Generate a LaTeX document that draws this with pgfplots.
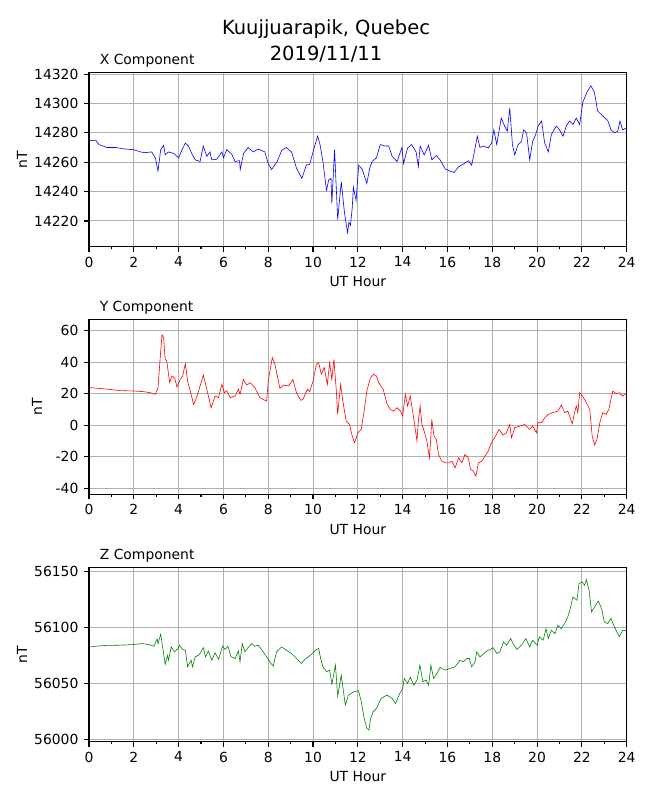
\documentclass[border=0pt]{standalone}
\usepackage{fontspec}
\setmainfont{DejaVu Sans}
\usepackage{pgfplots}
\pgfplotsset{compat=1.18}
\definecolor{mplgreen}{RGB}{0,128,0}
\definecolor{gridgray}{RGB}{176,176,176}
\newcommand{\tfont}{\fontsize{13.9}{16}\selectfont}
\pgfplotsset{
  magpanel/.style={
    scale only axis, width=537.7pt, height=174.4pt, anchor=south west,
    xmin=0, xmax=24, xtick={0,2,4,6,8,10,12,14,16,18,20,22,24}, minor x tick num=1,
    grid=major, major grid style={color=gridgray, line width=1pt},
    axis line style={line width=1.1pt},
    every tick/.style={black, line width=1.1pt},
    major tick length=4.9pt, minor tick length=2.8pt,
    tick align=outside, tick pos=left,
    scaled y ticks=false, scaled x ticks=false,
    xticklabel={\tfont\pgfmathprintnumber[assume math mode=true,fixed,set thousands separator={}]{\tick}},
    yticklabel={\tfont\pgfmathprintnumber[assume math mode=true,fixed,set thousands separator={}]{\tick}},
    xticklabel style={font=\tfont, inner sep=0pt, yshift=-4.9pt},
    yticklabel style={font=\tfont, inner sep=0pt, xshift=-5.5pt},
    xlabel={UT Hour}, ylabel={nT},
    xlabel style={at={(axis description cs:0.5,0)}, anchor=center, yshift=-35.3pt, font=\tfont},
    title style={at={(axis description cs:0,1)}, anchor=base west, xshift=6pt, yshift=2pt, font=\tfont},
    clip=true,
  }
}
\begin{document}
\tfont
\begin{tikzpicture}[x=1pt,y=1pt,font=\tfont]
\path[use as bounding box] (0,0) rectangle (650,800);
\node[align=center, font=\fontsize{19.5}{26}\selectfont] at (326,759) {Kuujjuarapik, Quebec\\2019/11/11};

% ---------- X component ----------
\begin{axis}[magpanel, at={(89pt,553.3pt)},
  ymin=14202.5, ymax=14321.2, ytick={14220,14240,14260,14280,14300,14320},
  title={X Component},
  every axis y label/.style={at={(axis description cs:0,0.5)}, anchor=center, rotate=90, yshift=67pt, font=\tfont}]
\addplot[blue, line width=0.6pt] coordinates {
(0.00,14275) (0.07,14274.7) (0.3,14275) (0.45,14272) (0.8,14270) (1.2,14270)
(1.6,14269) (2.0,14268.5) (2.3,14267) (2.5,14266.5) (2.8,14267) (2.96,14263)
(3.08,14254) (3.2,14268.5) (3.33,14271.5) (3.4,14265) (3.55,14267) (3.78,14266)
(4.0,14263) (4.15,14268.5) (4.3,14273) (4.44,14271) (4.6,14265.5) (4.74,14261.6)
(4.96,14260.5) (5.1,14271) (5.26,14264) (5.4,14267) (5.48,14261.6) (5.7,14262)
(5.93,14267) (6.0,14263) (6.15,14268.5) (6.37,14265.5) (6.52,14260.5) (6.72,14261)
(6.75,14255) (6.9,14266) (7.1,14270) (7.33,14267) (7.55,14269) (7.85,14267)
(8.0,14259) (8.15,14255) (8.4,14260.5) (8.6,14268) (8.8,14270) (9.04,14267)
(9.26,14256) (9.5,14249) (9.7,14258) (9.85,14258.6) (10.0,14267) (10.2,14277.7)
(10.3,14273) (10.44,14260.5) (10.6,14241) (10.7,14248) (10.8,14249) (10.84,14232)
(10.96,14268.5) (11.1,14221) (11.26,14246.7) (11.4,14226) (11.54,14212) (11.6,14219)
(11.67,14217) (11.75,14229) (11.8,14243) (11.92,14234) (12.04,14258) (12.2,14255)
(12.4,14245.5) (12.53,14256) (12.64,14260.5) (12.83,14263) (13.0,14272) (13.23,14271)
(13.38,14271) (13.53,14264) (13.75,14260.5) (13.97,14270) (14.04,14259) (14.22,14269.7)
(14.4,14272) (14.6,14267) (14.7,14257) (14.78,14271) (14.96,14265) (15.16,14271.5)
(15.3,14261.6) (15.5,14264.6) (15.67,14261.6) (15.9,14255.4) (16.1,14254) (16.3,14253)
(16.5,14257) (16.7,14258.6) (16.93,14261) (17.08,14258) (17.2,14267) (17.33,14277.7)
(17.45,14270) (17.6,14271) (17.82,14269.7) (17.97,14273) (18.07,14282) (18.2,14272)
(18.4,14290) (18.55,14284.6) (18.67,14281) (18.78,14297) (18.9,14272) (19.0,14265)
(19.15,14272) (19.3,14274) (19.4,14282) (19.53,14280) (19.67,14261.6) (19.8,14274)
(19.94,14279) (20.05,14284.6) (20.2,14288) (20.34,14273) (20.5,14267) (20.64,14279)
(20.86,14284.6) (21.0,14282) (21.16,14277.7) (21.3,14284.6) (21.45,14288) (21.6,14285.7)
(21.75,14290) (21.9,14285.7) (22.04,14300.7) (22.22,14307.6) (22.4,14312) (22.56,14307.6)
(22.7,14295) (22.93,14291.5) (23.15,14288.5) (23.3,14282) (23.45,14280) (23.6,14281)
(23.7,14288) (23.82,14282) (24.0,14283.4)
};
\end{axis}

% ---------- Y component ----------
\begin{axis}[magpanel, at={(89pt,305.7pt)},
  ymin=-43.8, ymax=66.8, ytick={-40,-20,0,20,40,60},
  title={Y Component},
  every axis y label/.style={at={(axis description cs:0,0.5)}, anchor=center, rotate=90, yshift=52pt, font=\tfont}]
\addplot[red, line width=0.6pt] coordinates {
(0.00,23.8) (0.07,23.8) (0.74,23) (1.33,22) (2.0,21.7) (2.44,21.3) (2.74,20.6)
(2.96,19.6) (3.08,23.8) (3.2,47) (3.26,57.3) (3.33,55.6) (3.4,41.8) (3.47,40.8)
(3.6,27) (3.7,31.2) (3.82,30) (3.93,24.2) (4.07,29) (4.18,31.2) (4.3,39) (4.4,28)
(4.5,22.8) (4.67,13.2) (4.8,17.5) (4.96,24.9) (5.1,31.9) (5.26,22.8) (5.45,11.1)
(5.63,18.5) (5.78,17.5) (5.93,26) (6.04,20.6) (6.15,22) (6.3,17.5) (6.52,18.5)
(6.67,22.8) (6.74,19.6) (6.89,29) (7.04,25.5) (7.2,27) (7.4,23.8) (7.63,17.5)
(7.85,15.8) (7.93,15.3) (8.0,28) (8.18,42.9) (8.3,38.6) (8.52,23.4) (8.7,25.5)
(8.9,24.9) (9.1,29) (9.26,20.6) (9.45,15.8) (9.55,16.4) (9.75,22.8) (9.85,21.3)
(10.0,28) (10.15,38.6) (10.25,39.7) (10.37,32.3) (10.5,36.5) (10.64,26) (10.74,39.7)
(10.84,29) (10.93,41.8) (11.04,21.7) (11.1,6.9) (11.23,26) (11.33,15.3) (11.48,2.6)
(11.63,0.5) (11.73,-5.8) (11.85,-11) (11.93,-8) (12.0,-4.8) (12.15,-2.5) (12.27,8)
(12.4,21.7) (12.56,30) (12.7,32.3) (12.83,31.2) (12.93,27) (13.13,22.8) (13.3,13.6)
(13.45,10) (13.6,9) (13.75,11.1) (13.9,9) (14.0,5.8) (14.12,19.6) (14.22,12.2)
(14.34,18.5) (14.5,3.7) (14.64,-10) (14.7,2.6) (14.78,12.2) (14.86,0.5) (14.96,-3.7)
(15.08,-10) (15.2,-20.7) (15.3,3.7) (15.4,-7) (15.5,-9) (15.6,-18.6) (15.75,-22.8)
(15.9,-23.9) (16.04,-23.9) (16.2,-22.8) (16.34,-27) (16.5,-20.7) (16.64,-23.9)
(16.78,-18.6) (16.93,-20.7) (17.03,-28) (17.15,-29) (17.27,-32.3) (17.38,-23.9)
(17.53,-22.8) (17.67,-19.6) (17.82,-16.4) (17.97,-11) (18.1,-8) (18.3,-2.7)
(18.48,-6.3) (18.63,-4.8) (18.78,0.5) (18.86,-8) (19.0,-1.6) (19.23,-0.5) (19.45,0.5)
(19.67,-2.7) (19.8,-0.5) (19.97,-4.8) (20.04,1.6) (20.2,1.6) (20.34,4.7) (20.5,6.9)
(20.7,8) (20.93,9) (21.08,12.8) (21.23,8) (21.37,9) (21.57,0.9) (21.67,8) (21.75,12.2)
(21.82,8) (21.9,20.6) (22.03,18.5) (22.2,14.3) (22.35,10) (22.46,-7) (22.57,-12.6)
(22.67,-9) (22.8,1.6) (22.93,8) (23.08,6.9) (23.2,10) (23.38,21.7) (23.52,20)
(23.67,20.6) (23.82,18.5) (24.0,20.6)
};
\end{axis}

% ---------- Z component ----------
\begin{axis}[magpanel, at={(89pt,58.3pt)},
  ymin=55997.9, ymax=56153.9, ytick={56000,56050,56100,56150},
  title={Z Component},
  every axis y label/.style={at={(axis description cs:0,0.5)}, anchor=center, rotate=90, yshift=67pt, font=\tfont}]
\addplot[mplgreen, line width=0.6pt] coordinates {
(0.00,56082.7) (0.07,56082.7) (0.3,56083.3) (0.74,56084) (1.33,56084.2) (2.0,56084.8)
(2.37,56085.7) (2.67,56084.8) (2.9,56083.3) (3.04,56090) (3.08,56085.7) (3.2,56094)
(3.3,56081) (3.4,56067) (3.5,56075) (3.55,56070.8) (3.67,56082.7) (3.82,56078.3)
(3.97,56081) (4.03,56084.2) (4.18,56080.4) (4.3,56079.8) (4.4,56064.9) (4.56,56070.8)
(4.62,56064.9) (4.74,56073.8) (4.89,56075.3) (4.96,56076.8) (5.1,56082) (5.2,56073.8)
(5.33,56079) (5.48,56070.8) (5.63,56077.4) (5.78,56071.4) (5.96,56083.3) (6.07,56080.4)
(6.2,56083.3) (6.34,56073.8) (6.52,56072.3) (6.67,56079) (6.74,56069.3) (6.84,56085.7)
(6.96,56078.3) (7.1,56082) (7.26,56085.7) (7.4,56083.3) (7.55,56084.2) (7.7,56080.4)
(7.93,56073.8) (8.07,56069.3) (8.22,56065.5) (8.37,56078.3) (8.6,56082.7) (8.8,56079.8)
(9.04,56076.8) (9.26,56072.3) (9.48,56067.9) (9.63,56071.4) (9.8,56073.8) (10.0,56077.4)
(10.15,56080.4) (10.25,56081.3) (10.34,56072.3) (10.44,56064.9) (10.6,56060.4)
(10.74,56061.9) (10.84,56049.4) (11.0,56066.4) (11.1,56038.7) (11.26,56057.4)
(11.44,56030.7) (11.58,56039.6) (11.82,56042.6) (12.03,56043.5) (12.15,56034)
(12.27,56020) (12.4,56009.8) (12.5,56008.3) (12.56,56017.9) (12.68,56024.7)
(12.83,56027.7) (13.04,56036.6) (13.3,56039.6) (13.53,56036.6) (13.68,56032)
(13.87,56041) (14.0,56045.5) (14.07,56054.5) (14.22,56050) (14.34,56055.4) (14.5,56048.5)
(14.64,56053) (14.77,56066.4) (14.9,56051.5) (15.05,56053) (15.16,56048.5) (15.26,56066.4)
(15.38,56054.5) (15.53,56058.9) (15.67,56064.3) (15.9,56061.9) (16.1,56063.4)
(16.34,56064.9) (16.56,56070.8) (16.7,56069.3) (16.86,56072.3) (16.98,56072.3)
(17.08,56064.9) (17.23,56069.3) (17.3,56078.3) (17.45,56073.8) (17.6,56076.2)
(17.75,56079) (17.9,56080.4) (18.04,56082) (18.2,56076.8) (18.34,56078.3) (18.5,56087.2)
(18.64,56084.2) (18.82,56090.2) (18.97,56084.2) (19.1,56080.4) (19.3,56084.2)
(19.5,56090.2) (19.67,56082.7) (19.8,56088.7) (20.0,56084.2) (20.1,56091.7)
(20.27,56088.7) (20.4,56099) (20.5,56090.2) (20.64,56097.6) (20.8,56094.6) (20.93,56102)
(21.08,56099) (21.23,56103.6) (21.37,56109.5) (21.48,56117) (21.6,56127.4)
(21.78,56124.4) (21.87,56139.3) (22.0,56140.8) (22.12,56137.8) (22.2,56142.9)
(22.32,56133.3) (22.43,56114) (22.57,56118.5) (22.73,56123.8) (22.88,56117) (23.0,56105)
(23.15,56103.6) (23.3,56108) (23.45,56100.6) (23.67,56091.7) (23.82,56097.6) (24.0,56097)
};
\end{axis}
\end{tikzpicture}
\end{document}
